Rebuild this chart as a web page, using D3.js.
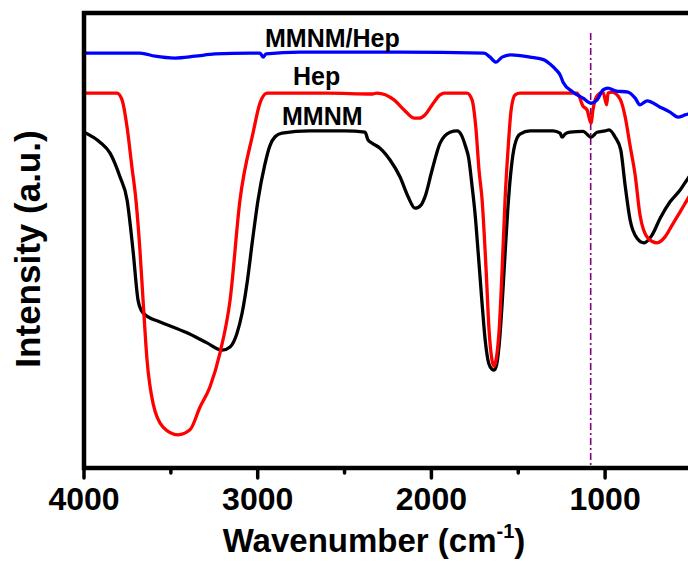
<!DOCTYPE html>
<meta charset="utf-8">
<title>FTIR spectra</title>
<style>
  body { margin: 0; background: #fff; }
  text { font-family: "Liberation Sans", Arial, sans-serif; font-weight: bold; }
</style>
<body>
<script src="https://cdn.jsdelivr.net/npm/d3@7"></script>
<script>

var width = 688,
    height = 563;

// wavenumber (cm-1), intensity (a.u.)
var mmnm = [
  [4000,73.8],[3908,71.6],[3850,69.2],[3793,64.0],[3752,58.9],[3718,47.9],[3689,36.9],
  [3670,34.6],[3660,34.1],[3631,33.2],[3562,32.1],[3407,29.7],[3292,27.5],[3205,25.9],
  [3159,26.6],[3120,29.5],[3090,34.0],[3060,41.0],[3030,50.0],[2998,58.9],[2960,66.5],
  [2930,70.8],[2900,72.8],[2860,73.6],[2700,74.1],[2500,74.1],[2382,73.8],[2365,72.1],
  [2342,71.4],[2296,70.3],[2238,67.7],[2181,64.0],[2134,59.6],[2094,57.1],[2060,57.8],
  [2037,59.6],[1996,65.5],[1950,71.4],[1893,73.8],[1852,74.1],[1825,73.0],[1806,71.0],
  [1785,68.0],[1766,62.0],[1749,56.0],[1730,47.0],[1710,37.0],[1690,28.0],[1670,23.0],
  [1651,21.7],[1639,21.5],[1625,22.6],[1610,27.0],[1593,36.0],[1576,47.0],[1560,57.0],
  [1540,66.0],[1520,71.0],[1490,73.4],[1432,74.1],[1300,74.1],[1259,73.6],[1248,72.7],
  [1230,73.4],[1202,73.8],[1127,74.0],[1081,72.7],[1046,73.8],[1000,74.1],[977,74.3],
  [942,72.7],[910,69.9],[885,62.2],[856,54.5],[816,50.5],[776,49.5],[730,51.2],
  [683,54.9],[626,58.5],[568,61.1],[522,63.7],[476,66.0]
];

var hep = [
  [4000,82.4],[3810,82.4],[3781,80.9],[3752,74.9],[3724,66.1],[3701,58.9],[3678,47.9],
  [3660,36.9],[3637,23.7],[3603,14.3],[3545,9.0],[3459,7.3],[3390,8.4],[3332,13.4],
  [3275,17.8],[3217,25.3],[3159,36.9],[3102,58.9],[3027,73.6],[2987,80.2],[2946,82.4],
  [2600,82.4],[2340,82.2],[2313,82.4],[2215,80.9],[2157,78.7],[2100,76.9],[2071,76.9],
  [2037,77.6],[1996,79.8],[1950,82.0],[1927,82.4],[1795,82.4],[1766,80.9],[1743,74.3],
  [1726,65.5],[1708,58.9],[1685,43.5],[1668,30.3],[1651,23.7],[1639,22.4],[1628,23.7],
  [1610,30.3],[1593,43.5],[1576,58.9],[1559,69.9],[1541,78.7],[1518,82.0],[1490,82.4],
  [1161,82.4],[1127,79.5],[1104,78.7],[1081,75.8],[1070,78.7],[1046,81.8],[1012,82.6],
  [991,79.8],[983,82.4],[960,82.6],[914,81.1],[885,77.3],[856,70.8],[827,64.4],
  [799,55.6],[753,50.5],[701,49.5],[655,50.8],[614,53.4],[568,56.3],[522,59.3],[476,62.2]
];

var mmnmHep = [
  [4000,91.2],[3678,91.2],[3591,90.5],[3476,90.1],[3361,90.5],[3246,91.0],[3044,91.2],
  [2987,91.2],[2969,90.3],[2952,91.0],[2756,91.4],[2181,91.4],[1697,91.2],[1662,90.3],
  [1628,89.2],[1593,90.3],[1541,90.8],[1432,90.3],[1351,89.7],[1317,88.8],[1282,87.5],
  [1259,86.4],[1242,84.8],[1184,82.6],[1127,81.3],[1081,80.2],[1046,80.9],[1012,83.1],
  [983,83.5],[942,82.9],[868,82.6],[827,81.3],[799,79.8],[758,80.7],[683,79.3],
  [626,78.2],[580,77.1],[540,77.6],[522,77.8],[476,78.2]
];

var series = [
  {name: "MMNM", values: mmnm, color: "#000000"},
  {name: "Hep", values: hep, color: "#ff0000"},
  {name: "MMNM/Hep", values: mmnmHep, color: "#0000ff"}
];

// curve labels: text, wavenumber at left edge, intensity at baseline
var labels = [
  {text: "MMNM/Hep", wn: 2958, v: 92.5},
  {text: "Hep", wn: 2797, v: 84.2},
  {text: "MMNM", wn: 2860, v: 75.4}
];

var majorTicks = [4000, 3000, 2000, 1000],
    minorTicks = [3500, 2500, 1500, 500];

var markerWn = 1083;

var x = d3.scaleLinear()
    .domain([4000, 400])
    .range([84, 84 + 3.6 * 173.7]);

var y = d3.scaleLinear()
    .domain([0, 100])
    .range([468, 13]);

var svg = d3.select("body").append("svg")
    .attr("width", width)
    .attr("height", height);

svg.append("clipPath")
    .attr("id", "plot")
  .append("rect")
    .attr("x", x(4000))
    .attr("y", y(100))
    .attr("width", x(400) - x(4000))
    .attr("height", y(0) - y(100));

var line = d3.line()
    .x(function(d) { return x(d[0]); })
    .y(function(d) { return y(d[1]); })
    .curve(d3.curveMonotoneX);

// dash-dot marker line
svg.append("line")
    .attr("x1", x(markerWn))
    .attr("x2", x(markerWn))
    .attr("y1", y(95.6))
    .attr("y2", y(0))
    .attr("stroke", "#800080")
    .attr("stroke-width", 1.6)
    .attr("stroke-dasharray", "7,3,2,3");

svg.append("g")
    .attr("clip-path", "url(#plot)")
  .selectAll("path")
    .data(series)
  .enter().append("path")
    .attr("d", function(d) { return line(d.values); })
    .attr("fill", "none")
    .attr("stroke", function(d) { return d.color; })
    .attr("stroke-width", 3.3)
    .attr("stroke-linejoin", "round");

// frame
svg.append("rect")
    .attr("x", x(4000))
    .attr("y", y(100))
    .attr("width", x(400) - x(4000))
    .attr("height", y(0) - y(100))
    .attr("fill", "none")
    .attr("stroke", "#000")
    .attr("stroke-width", 4.5);

// x axis ticks
var xAxis = svg.append("g")
    .attr("transform", "translate(0," + y(0) + ")");

xAxis.selectAll(".major")
    .data(majorTicks)
  .enter().append("line")
    .attr("x1", function(d) { return x(d); })
    .attr("x2", function(d) { return x(d); })
    .attr("y1", 0)
    .attr("y2", 10)
    .attr("stroke", "#000")
    .attr("stroke-width", 3.5)
    .attr("stroke-linecap", "round");

xAxis.selectAll(".minor")
    .data(minorTicks)
  .enter().append("line")
    .attr("x1", function(d) { return x(d); })
    .attr("x2", function(d) { return x(d); })
    .attr("y1", 0)
    .attr("y2", 5)
    .attr("stroke", "#000")
    .attr("stroke-width", 3.5)
    .attr("stroke-linecap", "round");

xAxis.selectAll("text")
    .data(majorTicks)
  .enter().append("text")
    .attr("x", function(d) { return x(d); })
    .attr("y", 42)
    .attr("text-anchor", "middle")
    .style("font-size", "32px")
    .text(function(d) { return d; });

// axis titles
var xt = svg.append("text")
    .attr("x", 374)
    .attr("y", 552)
    .attr("text-anchor", "middle")
    .style("font-size", "33px");
xt.append("tspan").text("Wavenumber (cm");
xt.append("tspan").attr("dy", -14).style("font-size", "20px").text("-1");
xt.append("tspan").attr("dy", 14).text(")");

svg.append("text")
    .attr("transform", "translate(40,249) rotate(-90)")
    .attr("text-anchor", "middle")
    .style("font-size", "35px")
    .text("Intensity (a.u.)");

// curve labels
svg.selectAll(".label")
    .data(labels)
  .enter().append("text")
    .attr("class", "label")
    .attr("x", function(d) { return x(d.wn); })
    .attr("y", function(d) { return y(d.v); })
    .style("font-size", "25px")
    .text(function(d) { return d.text; });

</script>
